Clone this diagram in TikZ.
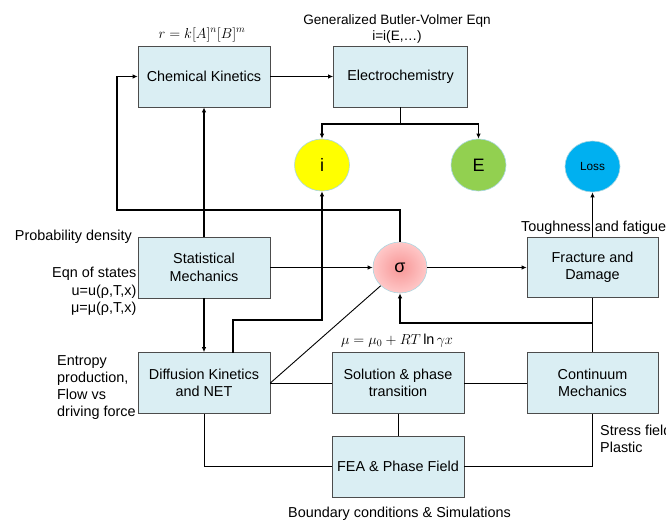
\documentclass[tikz,border=0pt]{standalone}
\usepackage{fontspec}
\setmainfont{Liberation Sans}
\usetikzlibrary{arrows.meta,shapes.geometric}
\newcommand\mainfs{\fontsize{14.4}{17.4}\selectfont}
\newcommand\bvfs{\fontsize{13.6}{15.5}\selectfont}
\newcommand\bigfs{\fontsize{18}{20}\selectfont}
\newcommand\lossfs{\fontsize{11.8}{13}\selectfont}
\definecolor{boxfill}{RGB}{218,238,243}
\definecolor{circedge}{RGB}{170,215,225}
\begin{document}
\begin{tikzpicture}[x=1pt,y=-1pt,
  box/.style={draw=black!70, line width=0.7pt, fill=boxfill, minimum width=132pt, minimum height=61pt, align=center, inner sep=2pt, font=\mainfs},
  circ/.style={ellipse, draw=circedge, line width=0.6pt, inner sep=0pt, minimum width=55pt, minimum height=52pt},
  conn/.style={line width=1.4pt, -{Latex[length=5pt,width=4.5pt]}},
  thickline/.style={line width=1.4pt},
  plain/.style={line width=0.9pt},
  lbl/.style={inner sep=0pt, font=\mainfs}]
\clip (0,0) rectangle (666,522);
\fill[white] (0,0) rectangle (666,522);
% boxes
\node[box] (ck) at (204,76.5) {Chemical Kinetics};
\node[box, minimum width=134pt] (ec) at (400.5,76.5) {Electrochemistry};
\node[box] (sm) at (204,267.5) {Statistical\\Mechanics};
\node[box] (dk) at (204,383) {Diffusion Kinetics\\and NET};
\node[box] (sp) at (398,383) {Solution \& phase\\transition};
\node[box, minimum width=131pt] (cm) at (592.5,383) {Continuum\\Mechanics};
\node[box, minimum width=131pt, minimum height=60pt] (fd) at (592.5,267.5) {Fracture and\\Damage};
\node[box] (fea) at (398,466.5) {FEA \& Phase Field};
% circles
\node[circ, fill={rgb,255:red,255;green,255;blue,0}, font=\bigfs] (i) at (322,165) {i};
\node[circ, fill={rgb,255:red,146;green,208;blue,80}, font=\bigfs] (E) at (478.5,165) {E};
\node[circ, fill={rgb,255:red,0;green,176;blue,240}, minimum height=51pt, font=\lossfs] (loss) at (592.5,166.5) {Loss};
\node[circ, minimum width=54pt, minimum height=51pt, inner color={rgb,255:red,247;green,150;blue,150}, outer color={rgb,255:red,255;green,200;blue,200}, font=\bigfs] (sigma) at (400,267.5) {σ};
% labels
\node[lbl, anchor=base] (rk) at (202,38) {$r=k[A]^n[B]^m$};
\node[lbl, font=\bvfs, align=center, anchor=north] (bv) at (397,14.5) {Generalized Butler-Volmer Eqn\\i=i(E,…)};
\node[lbl, anchor=base west] (tf) at (521,231) {Toughness and fatigue};
\node[lbl, anchor=base east] (pd) at (132,240) {Probability density};
\node[lbl, anchor=north east, align=right] (eos) at (136.5,267) {Eqn of states\\u=u(ρ,T,x)\\μ=μ(ρ,T,x)};
\node[lbl, anchor=north west, align=left, font=\fontsize{14.4}{17}\selectfont] (ent) at (57,355) {Entropy\\production,\\Flow vs\\driving force};
\node[lbl, anchor=north west, align=left, font=\fontsize{14.4}{17}\selectfont] (sf) at (600,425) {Stress field\\Plastic};
\node[lbl, anchor=base] (bc) at (399.5,517) {Boundary conditions \& Simulations};
\node[lbl, anchor=base] (mu) at (397,344) {$\mu=\mu_0+RT\ln\gamma x$};
% connectors
\draw[conn] (ck.east) -- (ec.west);
\coordinate (s1) at (400.5,124);
\draw[thickline] (ec.south) -- (s1);
\draw[conn] (s1) -| (i.north);
\draw[conn] (s1) -| (E.north);
\draw[conn] (sm.north) -- (ck.south);
\draw[conn] (sm.south) -- (dk.north);
\draw[conn] (sm.east) -- (sigma.west);
\coordinate (lp) at (117,210);
\draw[conn] (sigma.north) |- (lp) |- (ck.west);
\coordinate (dkt) at (233,352.5);
\coordinate (c2) at (322,320);
\draw[conn] (dkt) |- (c2) -- (i.south);
\draw[plain] (dk.east) -- (sp.west);
\draw[plain] (dk.east) -- (sigma.south west);
\draw[plain] (sp.east) -- (cm.west);
\draw[thickline] (fd.south) -- (cm.north);
\coordinate (c3) at (592.5,323);
\draw[conn] (c3) -| (sigma.south);
\draw[conn] (sigma.east) -- (fd.west);
\draw[conn] (fd.north) -- (loss.south);
\draw[plain] (sp.south) -- (fea.north);
\draw[plain] (dk.south) |- (fea.west);
\draw[plain] (fea.east) -| (cm.south);
\end{tikzpicture}
\end{document}
